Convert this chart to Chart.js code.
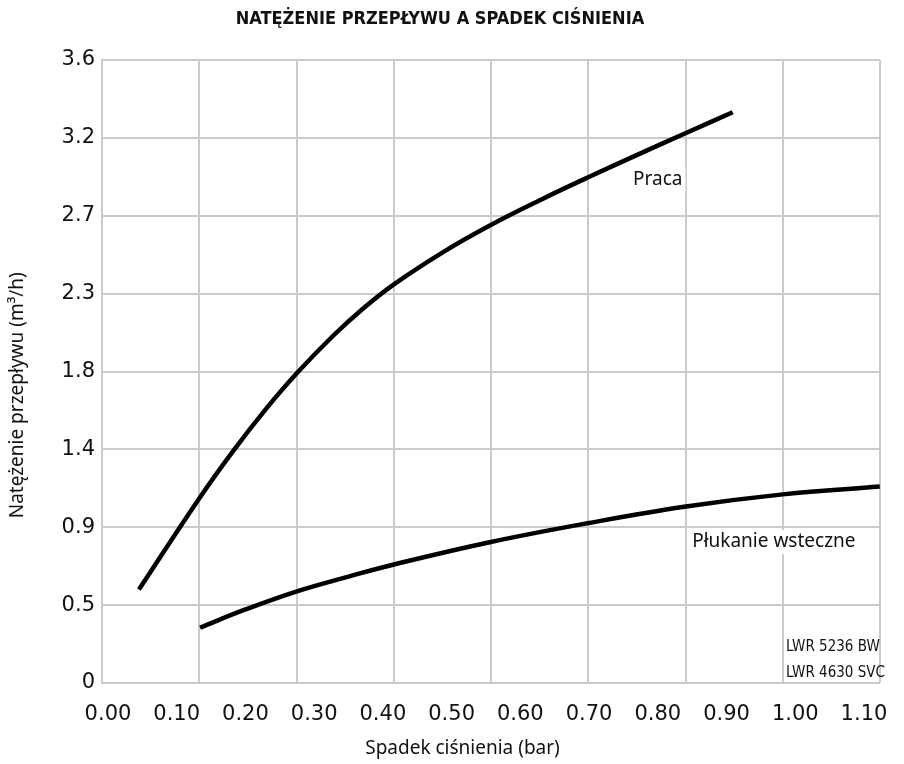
<!DOCTYPE html>
<html lang="pl">
<head>
<meta charset="utf-8">
<title>Natężenie przepływu a spadek ciśnienia</title>
<script src="https://cdn.jsdelivr.net/npm/chart.js@4/dist/chart.umd.min.js"></script>
<style>
  html, body { margin: 0; padding: 0; background: #fff; }
  #wrap { position: relative; width: 904px; height: 764px; }
</style>
</head>
<body>
<div id="wrap"><canvas id="chart"></canvas></div>
<script>
/* Natężenie przepływu vs spadek ciśnienia: dwie krzywe (praca / płukanie wsteczne) */

// spadek ciśnienia (bar) -> natężenie (m3/h)
const PRACA_X = [0.045, 0.132, 0.182, 0.23, 0.275, 0.328, 0.37, 0.415, 0.49, 0.557, 0.63, 0.698, 0.77, 0.841, 0.909];
const PRACA_Y = [0.54, 1.062, 1.34, 1.584, 1.791, 2.008, 2.16, 2.301, 2.496, 2.647, 2.793, 2.921, 3.052, 3.178, 3.298];

const PLUK_X = [0.134, 0.20, 0.275, 0.35, 0.416, 0.557, 0.70, 0.841, 0.982, 1.123];
const PLUK_Y = [0.32, 0.425, 0.53, 0.615, 0.685, 0.815, 0.925, 1.02, 1.09, 1.135];

const X_TICKS = [0, 0.1, 0.2, 0.3, 0.4, 0.5, 0.6, 0.7, 0.8, 0.9, 1.0, 1.1];
const Y_TICKS = [0, 0.45, 0.9, 1.35, 1.8, 2.25, 2.7, 3.15, 3.6];
const Y_TICK_LABELS = ["0", "0.5", "0.9", "1.4", "1.8", "2.3", "2.7", "3.2", "3.6"];

const SERIES_NAMES = ["Praca", "Płukanie wsteczne"];
const MODELS = ["LWR 5236 BW", "LWR 4630 SVC"];

// podpisy przy krzywych (w jednostkach osi)
const NOTES = [
  { text: SERIES_NAMES[0], x: 0.764, y: 2.91 },
  { text: SERIES_NAMES[1], x: 0.850, y: 0.815 },
  { text: MODELS[0], x: 0.9865, y: 0.21, narrow: true },
  { text: MODELS[1], x: 0.9865, y: 0.06, narrow: true },
];

const ink = "#111";
const gridColor = "#cbcbcb";
const tickFont = { family: "'DejaVu Sans', sans-serif", size: 21 };
const labelFont = { family: "'Noto Sans', sans-serif", size: 19 };

const toPts = (xs, ys) => xs.map((x, i) => ({ x, y: ys[i] }));

// podpisy z białym tłem, jak na oryginale
const notesPlugin = {
  id: "notes",
  afterDatasetsDraw(chart) {
    const ctx = chart.ctx;
    const sx = chart.scales.x;
    const sy = chart.scales.y;
    ctx.save();
    ctx.textBaseline = "middle";
    ctx.textAlign = "left";
    NOTES.forEach((n) => {
      ctx.font = n.narrow
        ? "15px 'Liberation Sans Narrow', 'DejaVu Sans Condensed', sans-serif"
        : `${labelFont.size}px ${labelFont.family}`;
      const px = sx.getPixelForValue(n.x);
      const py = sy.getPixelForValue(n.y);
      const w = ctx.measureText(n.text).width;
      if (!n.narrow) {
        ctx.fillStyle = "#fff";
        ctx.fillRect(px - 3, py - 12, w + 6, 24);
      }
      ctx.fillStyle = ink;
      ctx.fillText(n.text, px, py);
    });
    ctx.restore();
  },
};

new Chart(document.getElementById("chart"), {
  type: "line",
  data: {
    datasets: [
      { label: SERIES_NAMES[0], data: toPts(PRACA_X, PRACA_Y) },
      { label: SERIES_NAMES[1], data: toPts(PLUK_X, PLUK_Y) },
    ].map((d) => ({
      ...d,
      borderColor: "#000",
      borderWidth: 4.5,
      pointRadius: 0,
      tension: 0.4,
      fill: false,
    })),
  },
  options: {
    responsive: true,
    maintainAspectRatio: false,
    animation: false,
    layout: { padding: { top: 0, right: 24, bottom: 0, left: 0 } },
    plugins: {
      legend: { display: false },
      tooltip: { enabled: false },
      title: {
        display: true,
        text: "NATĘŻENIE PRZEPŁYWU A SPADEK CIŚNIENIA",
        color: ink,
        font: { family: "'Liberation Sans Narrow', 'DejaVu Sans Condensed', sans-serif", size: 18, weight: "bold" },
        padding: { top: 9, bottom: 29.4 },
      },
    },
    scales: {
      x: {
        type: "linear",
        position: "bottom",
        min: -0.0087,
        max: 1.1233,
        afterBuildTicks: (s) => { s.ticks = X_TICKS.map((v) => ({ value: v })); },
        afterFit: (s) => { s.height = 81; },
        ticks: { color: ink, font: tickFont, padding: 11, maxRotation: 0, autoSkip: false, callback: (v) => v.toFixed(2) },
        grid: { display: false },
        border: { display: false },
        // spacje na końcu przesuwają podpis w lewo jak na oryginale
        title: { display: true, text: "Spadek ciśnienia (bar)\u2002\u2002\u2002\u2002\u2002\u2002", color: ink, font: labelFont, padding: { bottom: 4 } },
      },
      xGrid: {
        type: "linear",
        position: "bottom",
        min: 0,
        max: 8,
        afterFit: (s) => { s.height = 0; },
        ticks: { stepSize: 1, display: false },
        grid: { color: gridColor, lineWidth: 2, drawTicks: false },
        border: { display: false },
      },
      y: {
        min: 0,
        max: 3.6,
        afterBuildTicks: (s) => { s.ticks = Y_TICKS.map((v) => ({ value: v })); },
        afterFit: (s) => { s.width = 102; },
        ticks: { color: ink, font: tickFont, padding: 7, callback: (v, i) => Y_TICK_LABELS[i] },
        grid: { color: gridColor, lineWidth: 2, drawTicks: false },
        border: { color: gridColor, width: 2 },
        title: { display: true, text: "Natężenie przepływu (m³/h)\u2002\u2002\u2002\u2002\u2002", color: ink, font: labelFont, padding: { top: 6 } },
      },
    },
  },
  plugins: [notesPlugin],
});
</script>
</body>
</html>
